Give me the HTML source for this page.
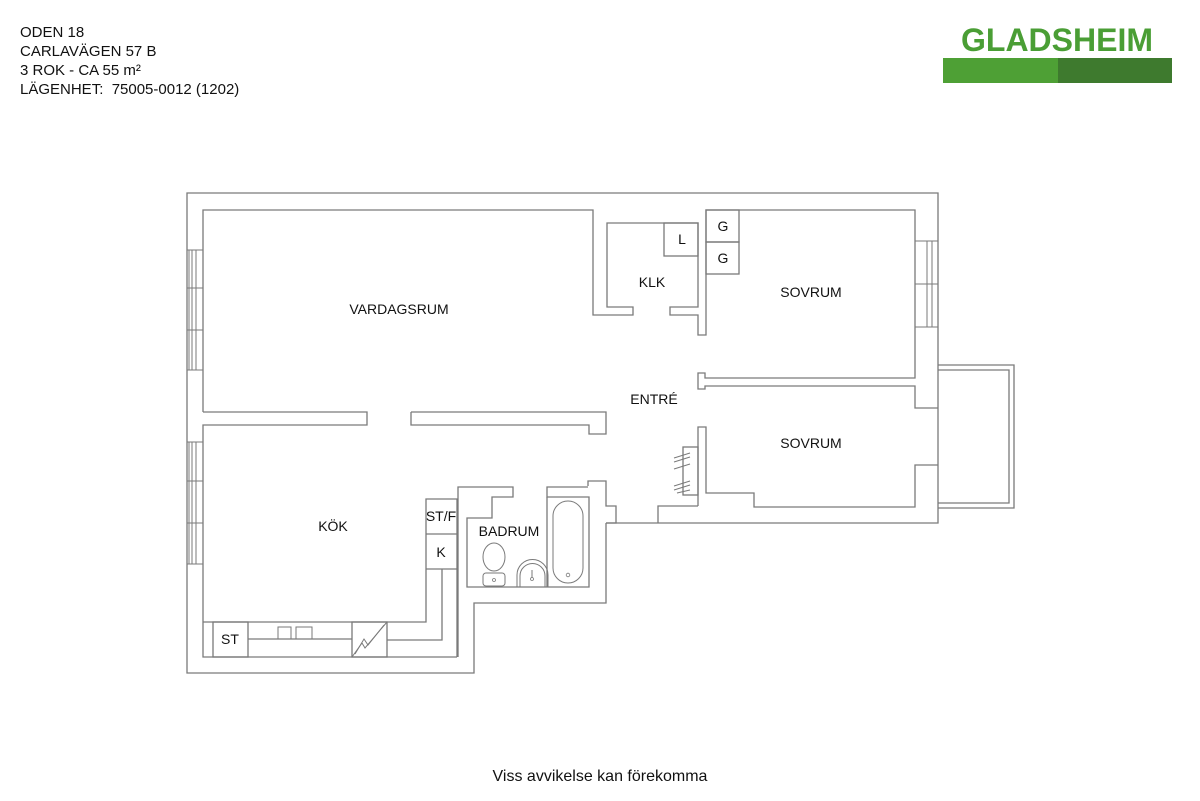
<!DOCTYPE html>
<html><head><meta charset="utf-8"><style>
html,body{margin:0;padding:0;background:#fff;}
svg{display:block;}
text{font-family:"Liberation Sans",Arial,sans-serif;fill:#111;white-space:pre;}
</style></head><body>
<svg width="1200" height="801" viewBox="0 0 1200 801" xmlns="http://www.w3.org/2000/svg" xml:space="preserve">
<rect width="1200" height="801" fill="#fff"/>
<g font-size="15">
<text x="20" y="37">ODEN 18</text>
<text x="20" y="56">CARLAVÄGEN 57 B</text>
<text x="20" y="75">3 ROK - CA 55 m²</text>
<text x="20" y="94">LÄGENHET:  75005-0012 (1202)</text>
</g>
<text x="1057" y="51" font-size="32" font-weight="bold" text-anchor="middle" style="fill:#4a9e35">GLADSHEIM</text>
<rect x="943" y="58" width="115" height="25" fill="#4ea035"/>
<rect x="1058" y="58" width="114" height="25" fill="#3e7a2e"/>

<g fill="none" stroke="#7a7a7a" stroke-width="1.3">
<polyline points="606,523 938,523 938,193 187,193 187,673 474,673 474,603 606,603 606,523"/>
<polyline points="606,523 616,523 616,506 606,506 606,481 588,481 588,486"/>
<polyline points="658,523 658,506 698,506"/>
<polyline points="203,412 203,210 593,210 593,315 633,315 633,307 607,307 607,223 698,223 698,307 670,307 670,315 698,315 698,335 706,335 706,210 915,210 915,378 706,378"/>
<polyline points="203,412 367,412 367,425 203,425 203,657 457,657"/>
<polyline points="411,412 606,412 606,434 589,434 589,425 411,425 411,412"/>
<rect x="664" y="223" width="34" height="33"/>
<rect x="706" y="210" width="33" height="32"/>
<rect x="706" y="242" width="33" height="32"/>
<polyline points="706,386 915,386 915,408 938,408"/>
<polyline points="706,378 705,378 705,373 698,373 698,389 705,389 705,386 706,386"/>
<polyline points="938,465 915,465 915,507 754,507 754,493 706,493 706,427 698,427 698,506"/>
<polyline points="938,365 1014,365 1014,508 938,508"/>
<polyline points="938,370 1009,370 1009,503 938,503"/>
<rect x="683" y="447" width="15" height="48"/>
<g stroke-width="1">
<line x1="674" y1="458" x2="690" y2="453"/><line x1="674" y1="462" x2="690" y2="457"/>
<line x1="674" y1="469" x2="690" y2="464"/><line x1="674" y1="490" x2="690" y2="485"/>
<line x1="674" y1="486" x2="690" y2="481"/><line x1="677" y1="493" x2="690" y2="490"/>
</g>
<g stroke-width="1">
<rect x="187" y="250" width="16" height="120"/><line x1="189" y1="250" x2="189" y2="370"/><line x1="192" y1="250" x2="192" y2="370"/><line x1="196" y1="250" x2="196" y2="370"/><line x1="187" y1="288" x2="203" y2="288"/><line x1="187" y1="330" x2="203" y2="330"/>
<rect x="187" y="442" width="16" height="122"/><line x1="189" y1="442" x2="189" y2="564"/><line x1="192" y1="442" x2="192" y2="564"/><line x1="196" y1="442" x2="196" y2="564"/><line x1="187" y1="481" x2="203" y2="481"/><line x1="187" y1="523" x2="203" y2="523"/>
<rect x="915" y="241" width="23" height="86"/><line x1="927" y1="241" x2="927" y2="327"/><line x1="932" y1="241" x2="932" y2="327"/><line x1="915" y1="284" x2="938" y2="284"/>
</g>
<polyline points="203,622 426,622 426,499 457,499 457,657"/>
<line x1="426" y1="534" x2="457" y2="534"/>
<line x1="426" y1="569" x2="457" y2="569"/>
<polyline points="442,569 442,640 387,640"/>
<rect x="213" y="622" width="35" height="35"/>
<line x1="248" y1="639" x2="352" y2="639"/>
<rect x="352" y="622" width="35" height="35"/>
<polyline points="352,657 362,643 365,648 387,622" stroke-width="1"/>
<polyline points="355,654 364,639 368,645 384,625" stroke-width="1"/>
<rect x="278" y="627" width="13" height="12" stroke-width="1"/>
<rect x="296" y="627" width="16" height="12" stroke-width="1"/>
<polyline points="458,657 458,487 513,487 513,497 492,497 492,518 467,518 467,587 589,587 589,497 547,497 547,487 588,487"/>
<line x1="547" y1="497" x2="547" y2="587"/>
<rect x="553" y="501" width="30" height="82" rx="15" ry="15" stroke-width="1"/>
<circle cx="568" cy="575" r="1.8" stroke-width="0.8"/>
<ellipse cx="494" cy="557" rx="11" ry="14" stroke-width="1"/>
<rect x="483" y="573" width="22" height="13" rx="3" stroke-width="1"/>
<circle cx="494" cy="580" r="1.5" stroke-width="0.8"/>
<path d="M517,587 L517,575 A15,15 0 0 1 548,575 L548,587" stroke-width="1"/>
<path d="M520,587 L520,576 A12,12 0 0 1 545,576 L545,587" stroke-width="1"/>
<line x1="532" y1="570" x2="532" y2="578" stroke-width="1"/>
<circle cx="532" cy="579" r="1.5" stroke-width="0.8"/>
</g>
<g font-size="14" text-anchor="middle">
<text x="399" y="314">VARDAGSRUM</text>
<text x="652" y="287">KLK</text>
<text x="682" y="244">L</text>
<text x="723" y="231">G</text>
<text x="723" y="263">G</text>
<text x="811" y="297">SOVRUM</text>
<text x="654" y="404">ENTRÉ</text>
<text x="811" y="448">SOVRUM</text>
<text x="333" y="531">KÖK</text>
<text x="441" y="521">ST/F</text>
<text x="441" y="557">K</text>
<text x="509" y="536">BADRUM</text>
<text x="230" y="644">ST</text>
</g>
<text x="600" y="781" font-size="16" text-anchor="middle">Viss avvikelse kan förekomma</text>
</svg>
</body></html>
